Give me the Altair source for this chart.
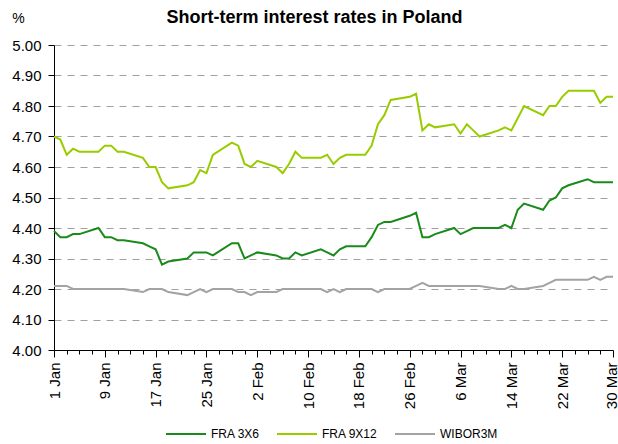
import altair as alt
import pandas as pd

# ---- data (business days, 1 Jan - 30 Mar 2007) ----
dates = [
    "2007-01-01", "2007-01-02", "2007-01-03", "2007-01-04", "2007-01-05",
    "2007-01-08", "2007-01-09", "2007-01-10", "2007-01-11", "2007-01-12",
    "2007-01-15", "2007-01-16", "2007-01-17", "2007-01-18", "2007-01-19",
    "2007-01-22", "2007-01-23", "2007-01-24", "2007-01-25", "2007-01-26",
    "2007-01-29", "2007-01-30", "2007-01-31", "2007-02-01", "2007-02-02",
    "2007-02-05", "2007-02-06", "2007-02-07", "2007-02-08", "2007-02-09",
    "2007-02-12", "2007-02-13", "2007-02-14", "2007-02-15", "2007-02-16",
    "2007-02-19", "2007-02-20", "2007-02-21", "2007-02-22", "2007-02-23",
    "2007-02-26", "2007-02-27", "2007-02-28", "2007-03-01", "2007-03-02",
    "2007-03-05", "2007-03-06", "2007-03-07", "2007-03-08", "2007-03-09",
    "2007-03-12", "2007-03-13", "2007-03-14", "2007-03-15", "2007-03-16",
    "2007-03-19", "2007-03-20", "2007-03-21", "2007-03-22", "2007-03-23",
    "2007-03-26", "2007-03-27", "2007-03-28", "2007-03-29", "2007-03-30",
]

fra_3x6 = [
    4.39, 4.37, 4.37, 4.38, 4.38,
    4.40, 4.37, 4.37, 4.36, 4.36,
    4.35, 4.34, 4.33, 4.28, 4.29,
    4.30, 4.32, 4.32, 4.32, 4.31,
    4.35, 4.35, 4.30, 4.31, 4.32,
    4.31, 4.30, 4.30, 4.32, 4.31,
    4.33, 4.32, 4.31, 4.33, 4.34,
    4.34, 4.37, 4.41, 4.42, 4.42,
    4.44, 4.45, 4.37, 4.37, 4.38,
    4.40, 4.38, 4.39, 4.40, 4.40,
    4.40, 4.41, 4.40, 4.46, 4.48,
    4.46, 4.49, 4.50, 4.53, 4.54,
    4.56, 4.55, 4.55, 4.55, 4.55,
]

fra_9x12 = [
    4.70, 4.69, 4.64, 4.66, 4.65,
    4.65, 4.67, 4.67, 4.65, 4.65,
    4.63, 4.60, 4.60, 4.55, 4.53,
    4.54, 4.55, 4.59, 4.58, 4.64,
    4.68, 4.67, 4.61, 4.60, 4.62,
    4.60, 4.58, 4.61, 4.65, 4.63,
    4.63, 4.64, 4.61, 4.63, 4.64,
    4.64, 4.67, 4.74, 4.77, 4.82,
    4.83, 4.84, 4.72, 4.74, 4.73,
    4.74, 4.71, 4.74, 4.72, 4.70,
    4.72, 4.73, 4.72, 4.76, 4.80,
    4.77, 4.80, 4.80, 4.83, 4.85,
    4.85, 4.85, 4.81, 4.83, 4.83,
]

wibor_3m = [
    4.21, 4.21, 4.21, 4.20, 4.20,
    4.20, 4.20, 4.20, 4.20, 4.20,
    4.19, 4.20, 4.20, 4.20, 4.19,
    4.18, 4.19, 4.20, 4.19, 4.20,
    4.20, 4.19, 4.19, 4.18, 4.19,
    4.19, 4.20, 4.20, 4.20, 4.20,
    4.20, 4.19, 4.20, 4.19, 4.20,
    4.20, 4.20, 4.19, 4.20, 4.20,
    4.20, 4.21, 4.22, 4.21, 4.21,
    4.21, 4.21, 4.21, 4.21, 4.21,
    4.20, 4.20, 4.21, 4.20, 4.20,
    4.21, 4.22, 4.23, 4.23, 4.23,
    4.23, 4.24, 4.23, 4.24, 4.24,
]

series_names = ["FRA 3X6", "FRA 9X12", "WIBOR3M"]
series_colors = ["#1a8a1a", "#99cc00", "#a3a3a3"]
y_ticks = [4.0, 4.1, 4.2, 4.3, 4.4, 4.5, 4.6, 4.7, 4.8, 4.9, 5.0]

# ---- long table ----
rows = []
for name, vals in zip(series_names, [fra_3x6, fra_9x12, wibor_3m]):
    for d, v in zip(dates, vals):
        rows.append({"date": d, "series": name, "rate": v})
df = pd.DataFrame(rows)

# axis ticks every 2 days, labels every 8 days
tick_ms = [int(t.value // 10**6) for t in pd.date_range("2007-01-01", "2007-03-30", freq="2D", tz="UTC")]
start_ms = int(pd.Timestamp("2007-01-01", tz="UTC").value // 10**6)
end_ms = tick_ms[-1]
major_test = f"round((datum.value - {start_ms}) / 86400000) % 8 == 0"

FONT = "Liberation Sans"

chart = (
    alt.Chart(df)
    .mark_line(strokeWidth=2)
    .encode(
        x=alt.X(
            "date:T",
            scale=alt.Scale(type="utc", domain=[start_ms, end_ms], nice=False),
            axis=alt.Axis(
                title=None,
                values=tick_ms,
                labelExpr=f"({major_test}) ? utcFormat(datum.value, '%-d %b') : ''",
                labelAngle=-90,
                labelOverlap=False,
                labelFontSize=15,
                labelPadding=5,
                labelColor="black",
                labelOffset={"condition": {"test": f"datum.value >= {end_ms}", "value": -2}, "value": 0},
                tickSize={"condition": {"test": major_test, "value": 7}, "value": 4},
                tickColor="black",
                domainColor="black",
                grid=False,
            ),
        ),
        y=alt.Y(
            "rate:Q",
            scale=alt.Scale(domain=[4.0, 5.0], nice=False, zero=False),
            axis=alt.Axis(
                title="%",
                titleAngle=0,
                titleFontSize=14,
                titleFontWeight="normal",
                titleX=-36,
                titleY=-20,
                titleAlign="center",
                values=y_ticks,
                format=".2f",
                labelFontSize=15,
                labelColor="black",
                labelPadding=7,
                tickSize=6,
                tickColor="black",
                domainColor="black",
                grid=True,
                gridColor="#a0a0a0",
                gridDash=[7, 6],
                gridWidth=1,
            ),
        ),
        color=alt.Color(
            "series:N",
            scale=alt.Scale(domain=series_names, range=series_colors),
            legend=alt.Legend(
                title=None,
                orient="none",
                legendX=111,
                legendY=368,
                direction="horizontal",
                symbolType="stroke",
                symbolSize=1600,
                symbolStrokeWidth=2,
                labelFontSize=12,
                labelColor="black",
                labelOffset=4,
                columnPadding=13,
            ),
        ),
    )
    .properties(
        width=559,
        height=305,
        autosize=alt.AutoSizeParams(type="none"),
        padding={"left": 54, "top": 45, "right": 5, "bottom": 94},
        title=alt.TitleParams(
            "Short-term interest rates in Poland",
            fontSize=18,
            fontWeight="bold",
            anchor="middle",
            dx=-19,
            dy=20,
            color="black",
        ),
    )
    .configure(font=FONT)
    .configure_view(stroke=None)
    .configure_axis(labelFont=FONT, titleFont=FONT)
)

chart.save("out.html", embed_options={"renderer": "svg", "actions": False})
